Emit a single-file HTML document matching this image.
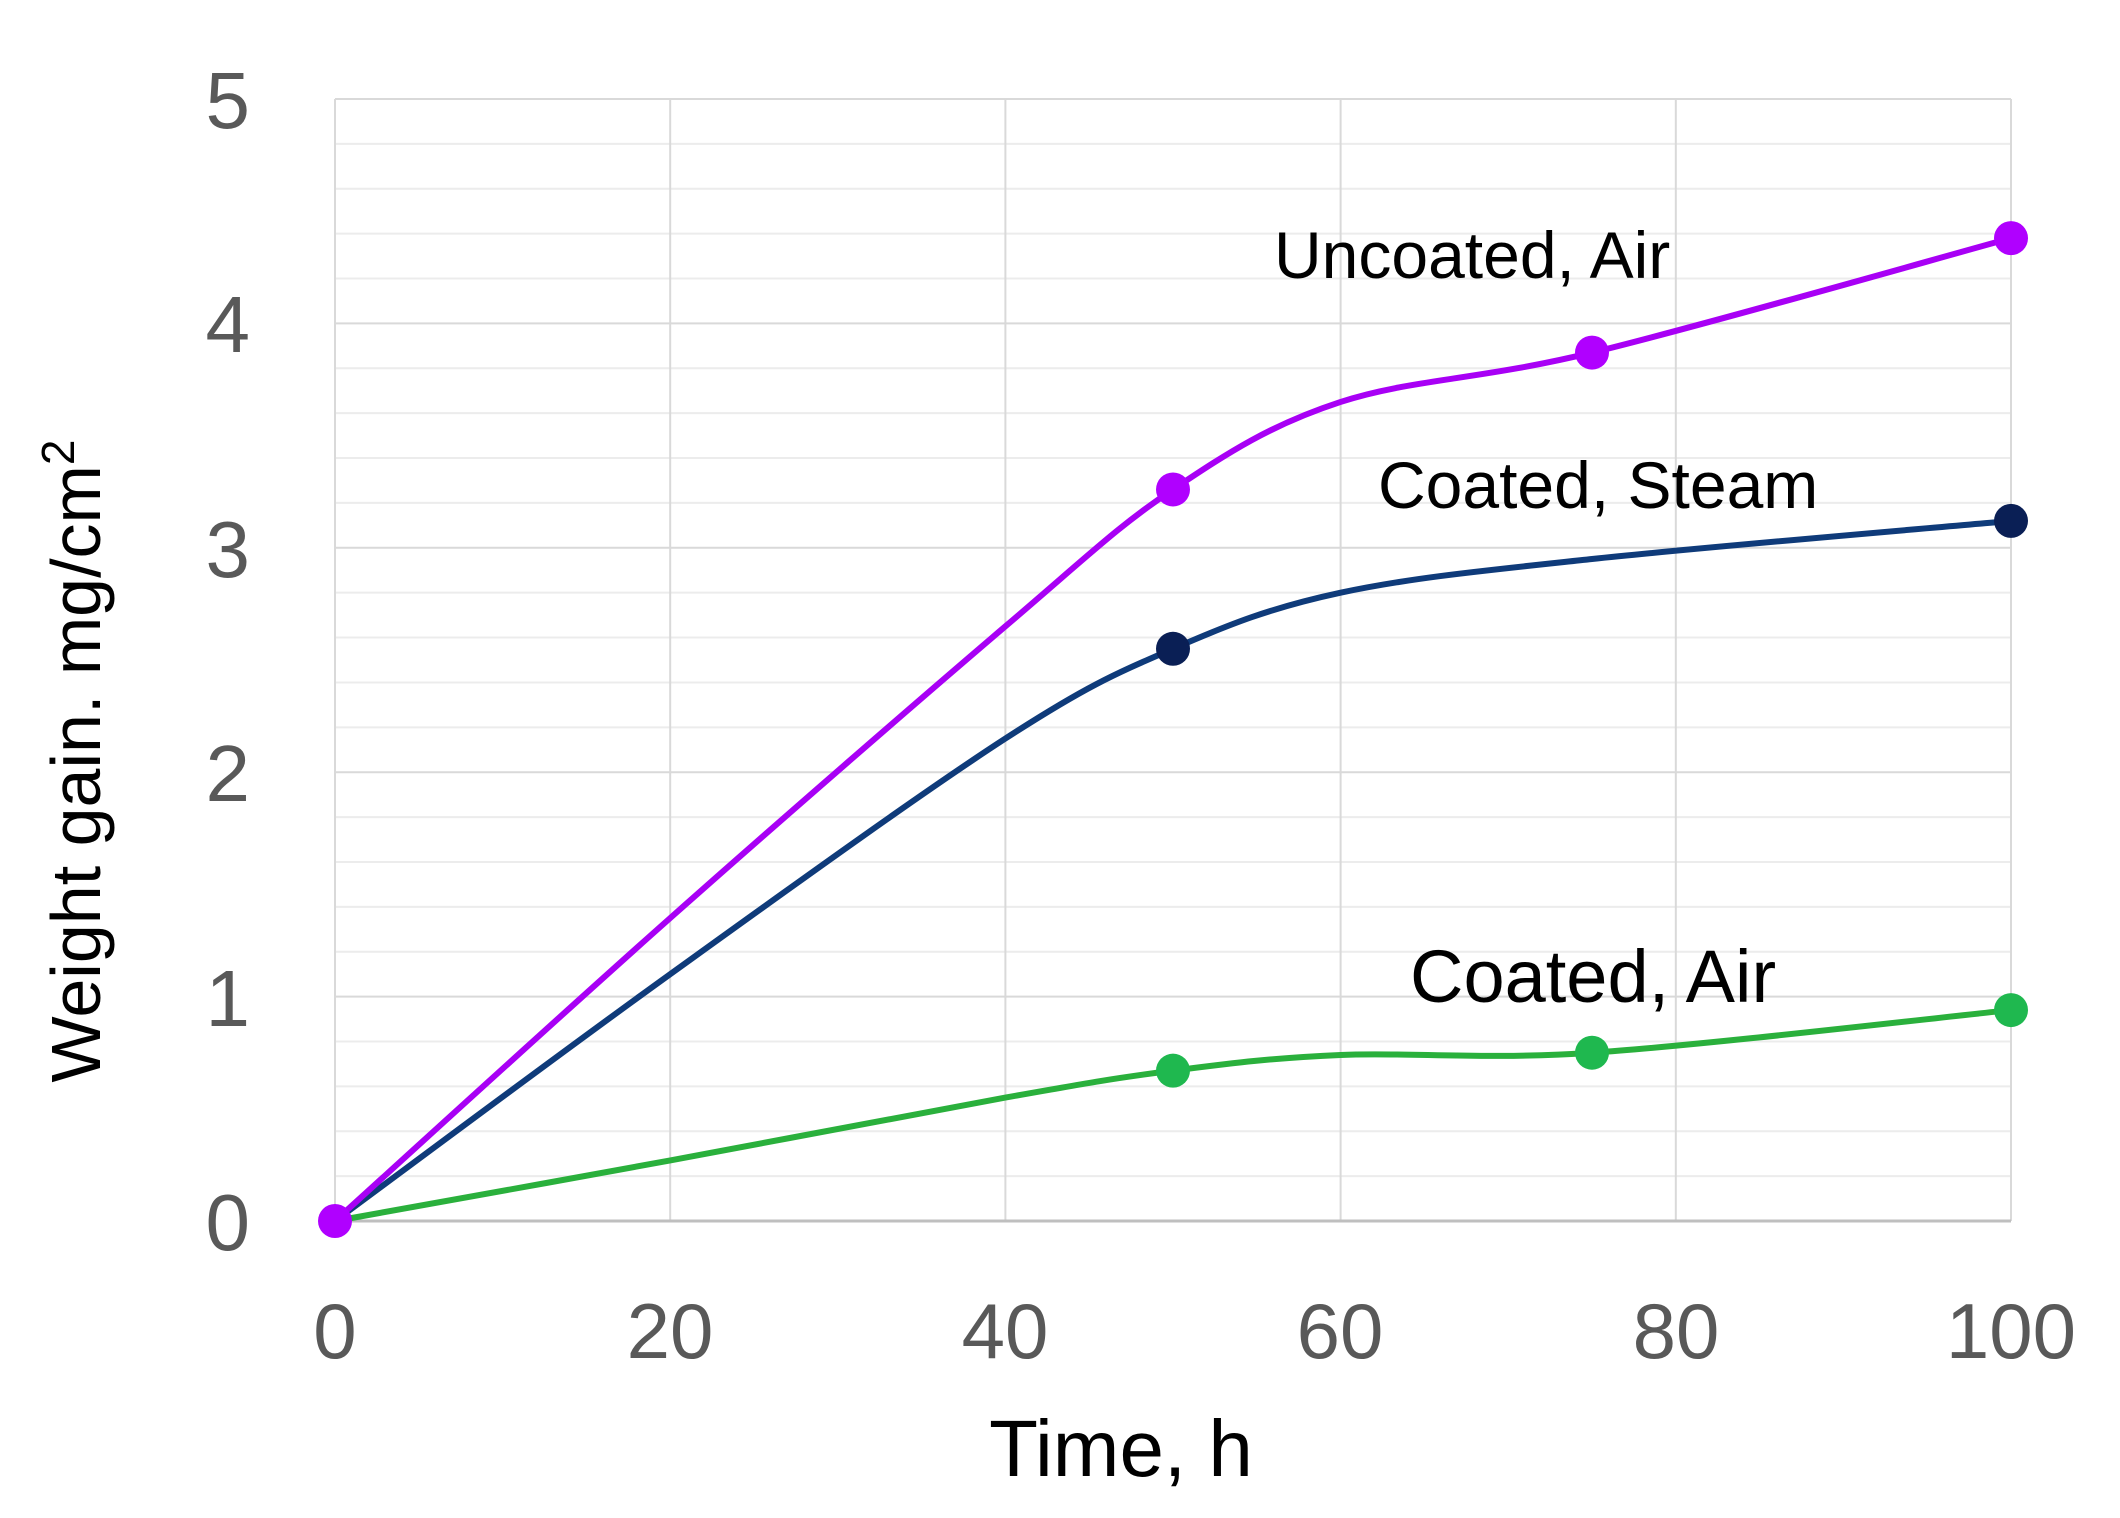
<!DOCTYPE html>
<html><head><meta charset="utf-8"><style>
html,body{margin:0;padding:0;background:#fff;}
svg text{font-family:"Liberation Sans",sans-serif;}
</style></head><body>
<svg id="s" width="2120" height="1513" viewBox="0 0 2120 1513" xmlns="http://www.w3.org/2000/svg">
<g id="grid"></g>
<g id="series"></g>
<g font-size="78" fill="#595959" text-anchor="middle">
<text x="335" y="1358">0</text><text x="670" y="1358">20</text><text x="1005" y="1358">40</text>
<text x="1340" y="1358">60</text><text x="1676" y="1358">80</text><text x="2011" y="1358">100</text>
</g>
<g font-size="80" fill="#595959" text-anchor="end">
<text x="250" y="1250">0</text><text x="250" y="1026">1</text><text x="250" y="801">2</text>
<text x="250" y="577">3</text><text x="250" y="352">4</text><text x="250" y="128">5</text>
</g>
<text x="1121" y="1476" font-size="80" text-anchor="middle" fill="#000">Time, h</text>
<text transform="translate(100,761) rotate(-90)" font-size="70" text-anchor="middle" fill="#000">Weight gain. mg/cm<tspan dy="-26" font-size="46">2</tspan></text>
<text x="1274" y="278" font-size="66" fill="#000">Uncoated, Air</text>
<text x="1378" y="508" font-size="66" fill="#000">Coated, Steam</text>
<text x="1410" y="1002" font-size="74" fill="#000">Coated, Air</text>
</svg>
<script>
const X=t=>335+16.76*t, Y=v=>1221-224.4*v;
const ns="http://www.w3.org/2000/svg";
const g=document.getElementById('grid'), sg=document.getElementById('series');
function el(p,tag,a){const e=document.createElementNS(ns,tag);for(const k in a)e.setAttribute(k,a[k]);p.appendChild(e);return e;}
for(let v=0.2;v<5;v+=0.2){if(Math.abs(v-Math.round(v))<0.01)continue;el(g,'line',{x1:X(0),x2:X(100),y1:Y(v),y2:Y(v),stroke:'#ececec','stroke-width':2});}
for(let v=1;v<=5;v++)el(g,'line',{x1:X(0),x2:X(100),y1:Y(v),y2:Y(v),stroke:'#d9d9d9','stroke-width':2});
for(let t=0;t<=100;t+=20)el(g,'line',{x1:X(t),x2:X(t),y1:Y(5),y2:Y(0),stroke:'#d9d9d9','stroke-width':2});
el(g,'line',{x1:X(0),x2:X(100),y1:Y(0),y2:Y(0),stroke:'#bfbfbf','stroke-width':3});
function path(pts){const P=pts.map(p=>[X(p[0]),Y(p[1])]);let d='M'+P[0];for(let i=0;i<P.length-1;i++){const p0=P[i-1]||P[i],p1=P[i],p2=P[i+1],p3=P[i+2]||P[i+1];
const c1=[p1[0]+(p2[0]-p0[0])/6,p1[1]+(p2[1]-p0[1])/6],c2=[p2[0]-(p3[0]-p1[0])/6,p2[1]-(p3[1]-p1[1])/6];d+='C'+c1+' '+c2+' '+p2;}return d;}
const S=[
 {c:'#2ab03c',pts:[[0,0],[20,0.27],[40,0.55],[50,0.67],[60,0.74],[75,0.75],[100,0.94]],m:[[50,0.67],[75,0.75],[100,0.94]],mc:'#1fb84f'},
 {c:'#0f3b7a',pts:[[0,0],[20,1.1],[40,2.15],[50,2.55],[60,2.8],[75,2.95],[100,3.12]],m:[[50,2.55],[100,3.12]],mc:'#0a1f55'},
 {c:'#a800f5',pts:[[0,0],[20,1.35],[40,2.65],[50,3.26],[60,3.65],[75,3.87],[100,4.38]],m:[[0,0],[50,3.26],[75,3.87],[100,4.38]],mc:'#b000ff'}];
S.forEach(s=>{el(sg,'path',{d:path(s.pts),fill:'none',stroke:s.c,'stroke-width':6});});
S.forEach(s=>s.m.forEach(p=>el(sg,'circle',{cx:X(p[0]),cy:Y(p[1]),r:17,fill:s.mc})));
</script>
</body></html>
